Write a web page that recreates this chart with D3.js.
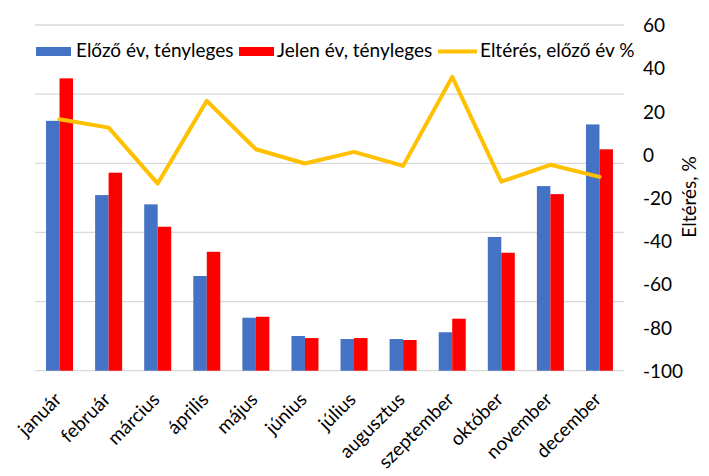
<!DOCTYPE html>
<html><head><meta charset="utf-8">
<script src="https://cdn.jsdelivr.net/npm/d3@7"></script>
<style>
body{margin:0;background:#fff}
text{font-family:Lato,"Open Sans",sans-serif;fill:#000}
</style>
</head><body>
<svg id="c" width="709" height="476"></svg>
<script>
const months = ["január","február","március","április","május","június","július","augusztus","szeptember","október","november","december"];
const prevYear = [180.7,127.0,120.3,68.5,38.3,25.1,22.9,22.9,27.8,96.7,133.5,178.1];
const currYear = [211.4,143.2,104.1,86.0,39.0,23.6,23.6,22.2,37.6,85.3,127.7,160.1];
const pctChange = [16.4,12.5,-13.4,24.9,2.5,-4.1,1.3,-5.2,36,-12.5,-4.7,-10.3];
const leftTicks = [0,50,100,150,200,250];
const rightTicks = [60,40,20,0,-20,-40,-60,-80,-100];
const seriesNames = ["Előző év, tényleges","Jelen év, tényleges","Eltérés, előző év %"];
const colors = ["#4472C4","#FF0000","#FFC000"];
const rightTitle = "Eltérés, %";

const svg = d3.select("#c");
const L = 35, R = 624, T = 25, B = 370.7;
const FS = 19;
const FF = "Lato,'Open Sans',sans-serif";

const x = d3.scaleBand().domain(months).range([L,R]).paddingInner(0.45).paddingOuter(0.225);
const x1 = d3.scaleBand().domain([0,1]).range([0,x.bandwidth()]);
const yL = d3.scaleLinear().domain([0,250]).range([B,T]);
const yR = d3.scaleLinear().domain([-100,60]).range([B,T]);

// gridlines
svg.append("g").selectAll("line").data(leftTicks).join("line")
  .attr("x1",L).attr("x2",R).attr("y1",d=>yL(d)).attr("y2",d=>yL(d))
  .attr("stroke","#d9d9d9").attr("stroke-width",1.3);

// bars
const series = [prevYear, currYear];
const g = svg.append("g");
series.forEach((vals,si)=>{
  g.append("g").selectAll("rect").data(vals).join("rect")
    .attr("x",(d,i)=>x(months[i])+x1(si))
    .attr("width",x1.bandwidth())
    .attr("y",d=>yL(d))
    .attr("height",d=>yL(0)-yL(d))
    .attr("fill",colors[si]);
});

// line
const line = d3.line().x((d,i)=>x(months[i])+x.bandwidth()/2).y(d=>yR(d));
svg.append("path").datum(pctChange).attr("d",line)
  .attr("fill","none").attr("stroke",colors[2]).attr("stroke-width",4)
  .attr("stroke-linejoin","round").attr("stroke-linecap","round");

// right axis
const ra = d3.axisRight(yR).tickValues(rightTicks).tickSize(0).tickPadding(0).tickFormat(d=>String(d));
const rag = svg.append("g").attr("transform",`translate(643,0)`).call(ra);
rag.select(".domain").remove();
rag.selectAll("text").style("font-size",FS+"px").style("font-family",FF).attr("fill","#000").attr("dy","0.35em");

svg.append("text").attr("transform",`translate(696,197) rotate(-90)`)
  .attr("text-anchor","middle").style("font-size",FS+"px").text(rightTitle);

// x axis labels
const xa = d3.axisBottom(x).tickSize(0).tickPadding(0);
const xag = svg.append("g").attr("transform",`translate(0,${B})`).call(xa);
xag.select(".domain").remove();
xag.selectAll("text")
  .style("font-size",FS+"px").style("font-family",FF).attr("fill","#000")
  .attr("text-anchor","end").attr("y",0).attr("dy",0)
  .attr("transform","translate(3,30) rotate(-45)");

// legend
const lg = svg.append("g");
const legX = [36,239,438];
const legTX = [76,277,480];
[0,1].forEach(i=>{
  lg.append("rect").attr("x",legX[i]).attr("y",47).attr("width",35).attr("height",9).attr("fill",colors[i]);
});
lg.append("line").attr("x1",legX[2]).attr("x2",legX[2]+39).attr("y1",51.5).attr("y2",51.5)
  .attr("stroke",colors[2]).attr("stroke-width",4);
seriesNames.forEach((n,i)=>{
  lg.append("text").attr("x",legTX[i]).attr("y",57).style("font-size",FS+"px").text(n);
});
</script>
</body></html>
